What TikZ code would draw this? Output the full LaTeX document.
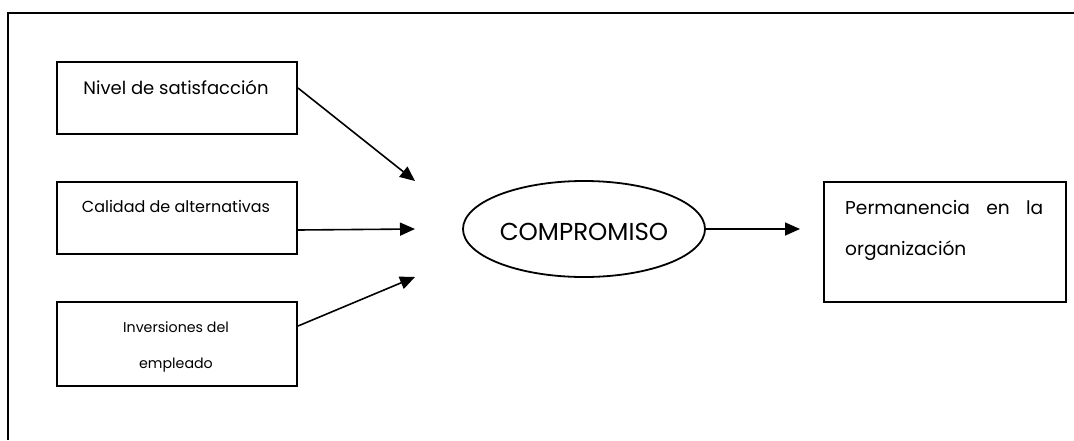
\documentclass[tikz,border=0pt]{standalone}
\usepackage{fontspec}
\setmainfont{Poppins}
\usetikzlibrary{arrows.meta,shapes.geometric,calc}
\begin{document}
\begin{tikzpicture}[x=1pt,y=-1pt,
  box/.style={draw,line width=2pt,minimum width=240pt,inner sep=0pt,anchor=north west},
  lbl/.style={inner sep=0pt,anchor=base},
  link/.style={line width=1.6pt,-{Triangle[length=15pt,width=13pt]}}]
\useasboundingbox (0,0) rectangle (1074,440);
% frame
\draw[line width=2.2pt] (1074,13) -- (8,13) -- (8,440);
% input boxes
\node[box,minimum height=72pt] (b1) at (56,61) {};
\node[box,minimum height=72pt] (b2) at (56,181) {};
\node[box,minimum height=84pt] (b3) at (56,301) {};
\node[lbl,font=\fontsize{18}{20}\selectfont] (t1) at (176,94) {Nivel de satisfacción};
\node[lbl,font=\fontsize{16}{18}\selectfont] (t2) at (176,212) {Calidad de alternativas};
\node[lbl,font=\fontsize{14.2}{17}\selectfont] (t3a) at (176,332) {Inversiones del};
\node[lbl,font=\fontsize{14.2}{17}\selectfont] (t3b) at (176,368) {empleado};
% central construct
\node[draw,ellipse,line width=1.8pt,minimum width=242pt,minimum height=96pt,inner sep=0pt] (c) at (584,229) {};
\node[lbl,font=\fontsize{24.5}{26}\selectfont] (ct) at (584,240) {COMPROMISO};
% outcome box
\node[box,minimum width=242pt,minimum height=120pt] (o) at (823,181) {};
\node[inner sep=0pt,anchor=base west,font=\fontsize{18.6}{21}\selectfont] (o1) at (845,214) {\makebox[198pt][s]{Permanencia en la}};
\node[inner sep=0pt,anchor=base west,font=\fontsize{18.6}{21}\selectfont] (o2) at (845,255) {organización};
% arrow ends
\coordinate (e1) at (415,181);
\coordinate (e2) at (415,229);
\coordinate (e3) at (415,277);
\coordinate (e4) at (800,229);
\draw[link] ($(b1.east)+(0,-10)$) -- (e1);
\draw[link] ($(b2.east)+(0,12)$) -- (e2);
\draw[link] ($(b3.east)+(0,-18)$) -- (e3);
\draw[link] (c.east) -- (e4);
\end{tikzpicture}
\end{document}
